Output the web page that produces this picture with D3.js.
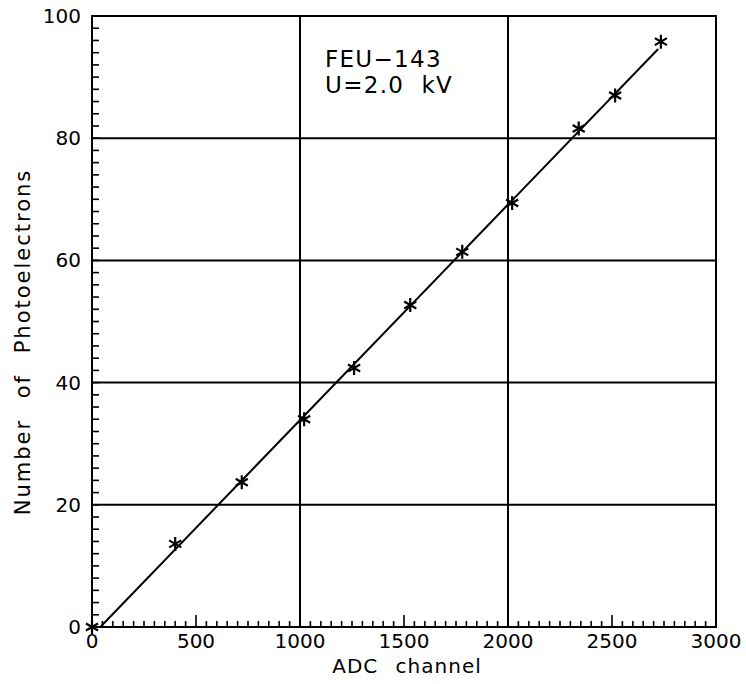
<!DOCTYPE html>
<html>
<head>
<meta charset="utf-8">
<script src="https://cdn.jsdelivr.net/npm/d3@7"></script>
<style>
  body { margin: 0; background: #fff; }
  text { font-family: "DejaVu Sans", sans-serif; fill: #000; white-space: pre; }
</style>
</head>
<body>
<script>
// measured points (ADC channel, photoelectrons)
const adcChannel = [0, 400, 720, 1020, 1260, 1530, 1780, 2020, 2340, 2515, 2735];
const photoelectrons = [0, 13.6, 23.7, 34.0, 42.4, 52.7, 61.4, 69.4, 81.6, 87.0, 95.8];
// fitted straight line, end points
const fitX = [40, 2722];
const fitY = [0, 94.6];
const xTicks = [0, 500, 1000, 1500, 2000, 2500, 3000];
const yTicks = [0, 20, 40, 60, 80, 100];
const xGrid = [1000, 2000];
const yGrid = [20, 40, 60, 80];
const labelLines = ['FEU\u2212143', 'U=2.0  kV'];

const width = 746, height = 684;
const margin = { left: 92, right: 30, top: 16, bottom: 57 };

const svg = d3.select('body')
    .append('svg')
    .attr('width', width)
    .attr('height', height);

const x = d3.scaleLinear().domain([0, 3000]).range([margin.left, width - margin.right]);
const y = d3.scaleLinear().domain([0, 100]).range([height - margin.bottom, margin.top]);

const stroke = '#000';

// grid
svg.selectAll('.gx').data(xGrid).enter().append('line')
    .attr('x1', d => x(d)).attr('x2', d => x(d))
    .attr('y1', y(0)).attr('y2', y(100))
    .attr('stroke', stroke).attr('stroke-width', 2);
svg.selectAll('.gy').data(yGrid).enter().append('line')
    .attr('x1', x(0)).attr('x2', x(3000))
    .attr('y1', d => y(d)).attr('y2', d => y(d))
    .attr('stroke', stroke).attr('stroke-width', 2);

// minor ticks, pointing inward
const xMinor = d3.range(0, 3001, 50);
svg.selectAll('.tx').data(xMinor).enter().append('line')
    .attr('x1', d => x(d)).attr('x2', d => x(d))
    .attr('y1', y(0)).attr('y2', d => y(0) - (d % 500 === 0 ? 12 : 6))
    .attr('stroke', stroke).attr('stroke-width', 1.6);
const yMinor = d3.range(0, 101, 2);
svg.selectAll('.ty').data(yMinor).enter().append('line')
    .attr('x1', x(0)).attr('x2', x(0) + 7)
    .attr('y1', d => y(d)).attr('y2', d => y(d))
    .attr('stroke', stroke).attr('stroke-width', 1.6);

// frame
svg.append('rect')
    .attr('x', x(0)).attr('y', y(100))
    .attr('width', x(3000) - x(0)).attr('height', y(0) - y(100))
    .attr('fill', 'none').attr('stroke', stroke).attr('stroke-width', 2);

// tick labels
svg.selectAll('.lx').data(xTicks).enter().append('text')
    .attr('x', d => x(d)).attr('y', y(0) + 21)
    .attr('text-anchor', 'middle')
    .attr('font-size', 20)
    .text(d => d);
svg.selectAll('.ly').data(yTicks).enter().append('text')
    .attr('x', x(0) - 11).attr('y', d => y(d) + 7)
    .attr('text-anchor', 'end')
    .attr('font-size', 20)
    .text(d => d);

// axis titles
svg.append('text')
    .attr('x', 407).attr('y', 673)
    .attr('text-anchor', 'middle')
    .attr('font-size', 20)
    .attr('letter-spacing', 1)
    .attr('word-spacing', 10)
    .text('ADC channel');
svg.append('text')
    .attr('transform', 'translate(30,342) rotate(-90)')
    .attr('text-anchor', 'middle')
    .attr('font-size', 21)
    .attr('letter-spacing', 2)
    .attr('word-spacing', 12)
    .text('Number of Photoelectrons');

// fit line
const line = d3.line().x(d => x(d[0])).y(d => y(d[1]));
svg.append('path')
    .datum(d3.zip(fitX, fitY))
    .attr('fill', 'none')
    .attr('stroke', stroke)
    .attr('stroke-width', 2)
    .attr('d', line);

// asterisk markers
const r = 7;
const star = [0, 60, 120].map(a => {
    const t = a * Math.PI / 180;
    const dx = r * Math.sin(t), dy = r * Math.cos(t);
    return `M${-dx},${-dy}L${dx},${dy}`;
}).join('');
svg.selectAll('.pt').data(d3.zip(adcChannel, photoelectrons)).enter().append('path')
    .attr('transform', d => `translate(${x(d[0])},${y(d[1])})`)
    .attr('d', star)
    .attr('stroke', stroke)
    .attr('stroke-width', 2.2)
    .attr('fill', 'none');

// annotation
svg.append('text')
    .attr('x', 325).attr('y', 67)
    .attr('font-size', 23)
    .attr('letter-spacing', 1.3)
    .selectAll('tspan').data(labelLines).enter().append('tspan')
    .attr('x', 325)
    .attr('dy', (d, i) => i === 0 ? 0 : 26)
    .text(d => d);
</script>
</body>
</html>
